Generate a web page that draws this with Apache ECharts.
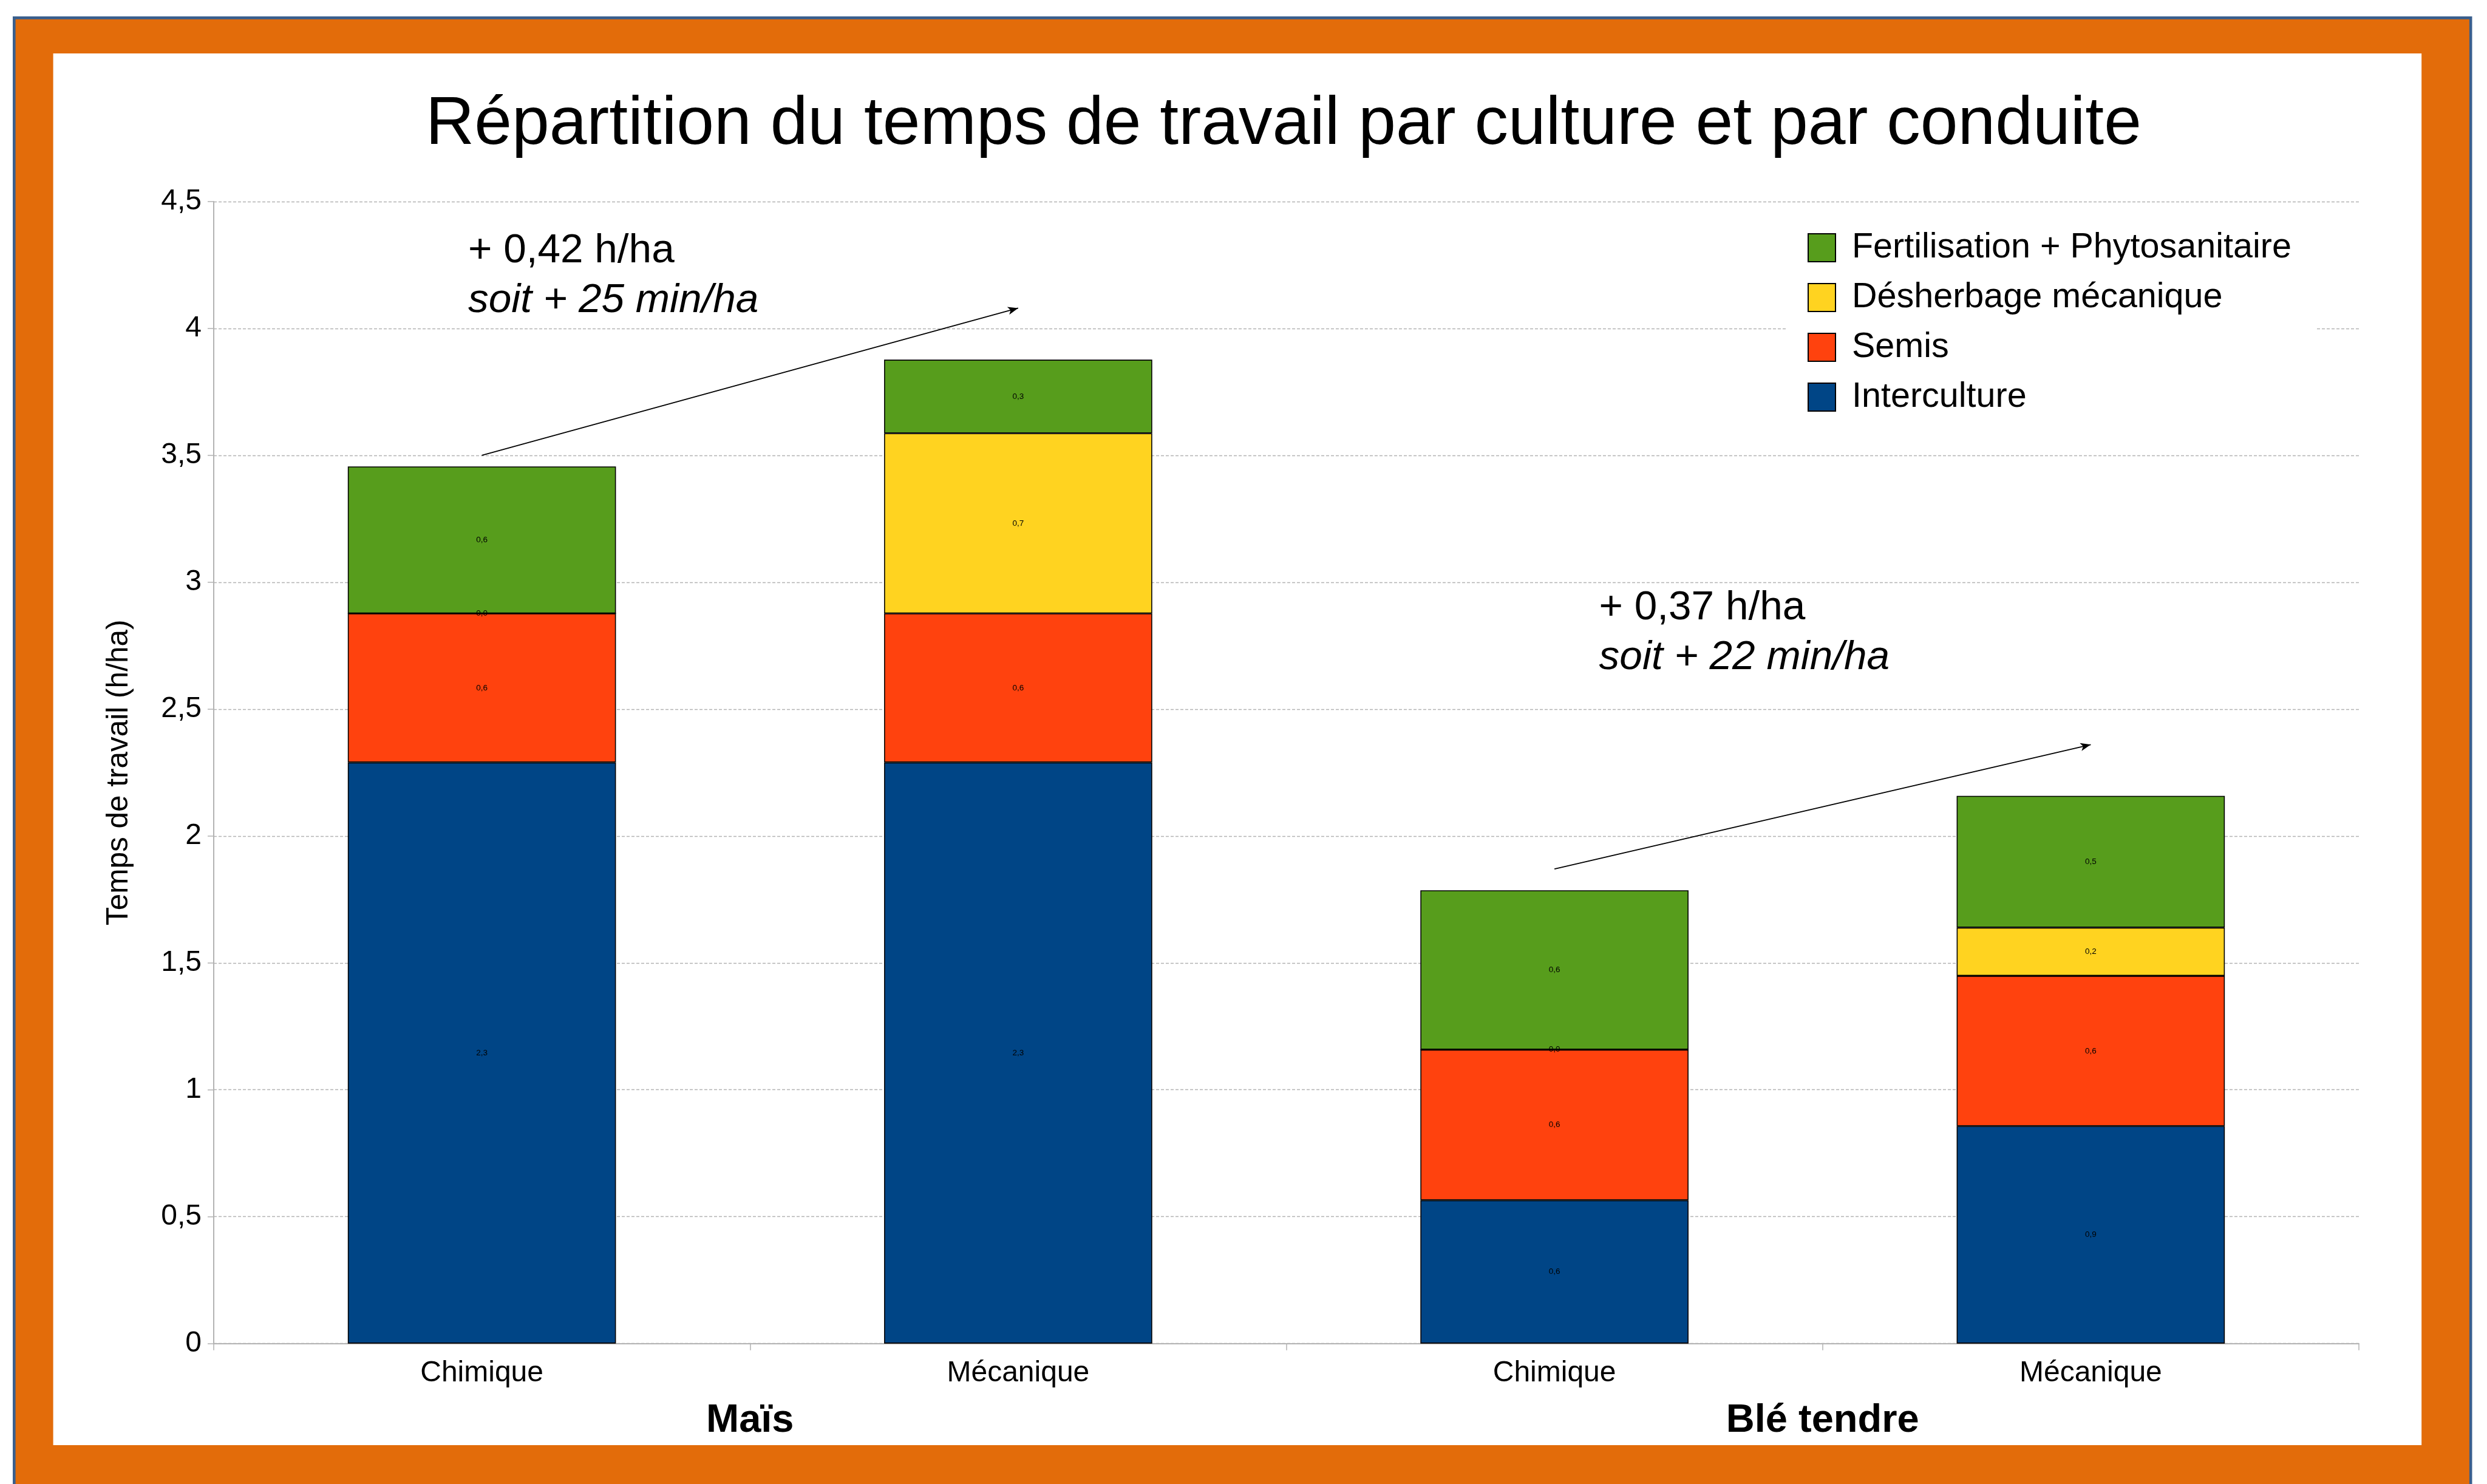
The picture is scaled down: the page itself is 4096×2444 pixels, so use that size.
<!DOCTYPE html>
<html><head><meta charset="utf-8">
<script src="https://cdn.jsdelivr.net/npm/echarts@6/dist/echarts.min.js"></script>
<style>html,body{margin:0;padding:0;background:#fff;}#chart{width:4096px;height:2444px;}</style>
</head><body><div id="chart"></div>
<script>
// ---- data ----
const chartTitle = 'Répartition du temps de travail par culture et par conduite';
const yAxisName = 'Temps de travail (h/ha)';
const categories = ['Chimique', 'Mécanique', 'Chimique', 'Mécanique'];
const groups = ['Maïs', 'Blé tendre'];
const interculture = [2.29, 2.29, 0.565, 0.857];
const semis = [0.587, 0.587, 0.593, 0.592];
const desherbage = [0, 0.71, 0, 0.19];
const fertilisation = [0.579, 0.29, 0.628, 0.519];
const seriesNames = ['Interculture', 'Semis', 'Désherbage mécanique', 'Fertilisation + Phytosanitaire'];
const legendOrder = ['Fertilisation + Phytosanitaire', 'Désherbage mécanique', 'Semis', 'Interculture'];
const yMin = 0, yMax = 4.5, yStep = 0.5;
const arrowFrom = [[0, 3.5], [2, 1.87]];
const arrowTo = [[1, 4.08], [3, 2.36]];
const annotationLines = [['+ 0,42 h/ha', 'soit + 25 min/ha'], ['+ 0,37 h/ha', 'soit + 22 min/ha']];

// ---- styles ----
const FONT = '"Liberation Sans", Arial, sans-serif';
const colors = ['#004586', '#ff420e', '#ffd320', '#579d1c'];
const seriesData = [interculture, semis, desherbage, fertilisation];
const fmt = v => String(v).replace('.', ',');

const chart = echarts.init(document.getElementById('chart'), null, {renderer: 'canvas'});

const barSeries = seriesNames.map((name, i) => ({
  name: name,
  type: 'bar',
  stack: 'total',
  barCategoryGap: '50%',
  data: seriesData[i],
  itemStyle: {color: colors[i], borderColor: '#000', borderWidth: 1.6},
  label: {
    show: true, position: 'inside', color: '#000', fontFamily: FONT, fontSize: 13.5,
    textBorderWidth: 0,
    formatter: p => p.value.toFixed(1).replace('.', ',')
  },
  emphasis: {disabled: true}
}));

const arrowSeries = {
  name: 'arrows', type: 'line', data: [], silent: true,
  markLine: {
    silent: true, symbol: ['none', 'arrow'], symbolSize: [10, 17],
    lineStyle: {color: '#000', width: 1.8, type: 'solid'},
    label: {show: false},
    data: arrowFrom.map((f, i) => [{coord: f}, {coord: arrowTo[i]}])
  }
};

const annX = [771, 2633.6];
const annY = [[413, 495.5], [1001.5, 1083.5]];
const graphics = [
  {type: 'rect', z: -100, silent: true, shape: {x: 23.3, y: 29.4, width: 4045.9, height: 2600},
   style: {fill: '#e36c0a', stroke: '#3a5f8d', lineWidth: 4.6}},
  {type: 'rect', z: -99, silent: true, shape: {x: 87.6, y: 88, width: 3900.6, height: 2292},
   style: {fill: '#ffffff'}}
];
annotationLines.forEach((lines, i) => {
  lines.forEach((t, j) => {
    graphics.push({type: 'text', z: 50, silent: true, x: annX[i], y: annY[i][j],
      style: {text: t, font: (j === 1 ? 'italic ' : '') + '67.5px ' + FONT, fill: '#000',
              align: 'left', verticalAlign: 'middle'}});
  });
});

chart.setOption({
  animation: false,
  backgroundColor: 'transparent',
  title: {
    text: chartTitle, left: 701, top: 151, padding: 0,
    textStyle: {fontFamily: FONT, fontSize: 111, fontWeight: 'normal', color: '#000', lineHeight: 111}
  },
  legend: {
    data: legendOrder, orient: 'vertical', left: 2943, top: 349,
    padding: [30, 40, 30, 34], backgroundColor: '#fff',
    itemWidth: 45, itemHeight: 46, itemGap: 24, icon: 'rect',
    textStyle: {fontFamily: FONT, fontSize: 57.5, lineHeight: 46, color: '#000', padding: [0, 0, 0, 22]},
    selectedMode: false
  },
  grid: {left: 352, right: 211, top: 331.9, bottom: 231.3, containLabel: false, outerBoundsMode: 'none'},
  xAxis: [{
    type: 'category', data: categories, position: 'bottom',
    axisLine: {show: true, lineStyle: {color: '#b3b3b3', width: 2}},
    axisTick: {show: true, length: 11, lineStyle: {color: '#b3b3b3', width: 1.5}},
    axisLabel: {fontFamily: FONT, fontSize: 48, lineHeight: 48, color: '#000', margin: 25, interval: 0},
    splitLine: {show: false}
  }, {
    type: 'category', data: groups, position: 'bottom',
    axisLine: {show: false}, axisTick: {show: false}, splitLine: {show: false},
    axisLabel: {fontFamily: FONT, fontSize: 65, lineHeight: 65, fontWeight: 'bold', color: '#000', margin: 95, interval: 0}
  }],
  yAxis: {
    type: 'value', min: yMin, max: yMax, interval: yStep,
    name: yAxisName, nameLocation: 'middle', nameGap: 131,
    nameTextStyle: {fontFamily: FONT, fontSize: 49.5, lineHeight: 49.5, color: '#000'},
    axisLine: {show: true, lineStyle: {color: '#b3b3b3', width: 2}},
    axisTick: {show: true, length: 10, lineStyle: {color: '#b3b3b3', width: 1.5}},
    axisLabel: {fontFamily: FONT, fontSize: 48, color: '#000', margin: 20, formatter: v => fmt(v)},
    splitLine: {show: true, lineStyle: {color: '#b3b3b3', width: 1.3, type: [5, 3]}}
  },
  graphic: graphics,
  series: barSeries.concat([arrowSeries])
});
</script>
</body></html>
